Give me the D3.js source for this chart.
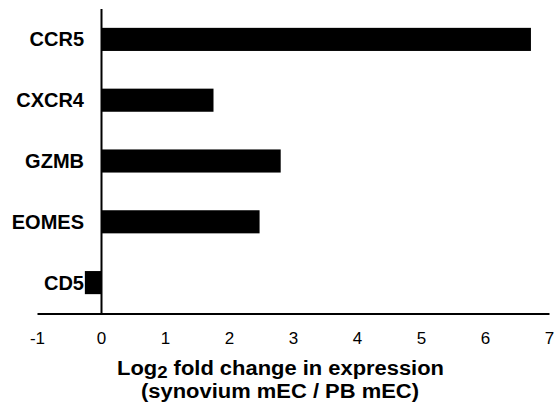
<!DOCTYPE html>
<html><head><meta charset="utf-8">
<script src="https://cdn.jsdelivr.net/npm/d3@7"></script>
<style>body{margin:0;background:#fff}svg{display:block}text{font-family:"Liberation Sans",Arial,sans-serif}</style>
</head><body>
<svg id="c" width="556" height="408"></svg>
<script>
const categories = ["CCR5","CXCR4","GZMB","EOMES","CD5"];
const values = [6.71, 1.75, 2.8, 2.47, -0.26];
const xTicks = [-1,0,1,2,3,4,5,6,7];

const svg = d3.select("#c");
const x = d3.scaleLinear().domain([-1,7]).range([37.5,549.5]);
const y = d3.scaleBand().domain(categories).range([9,313]).paddingInner(0.62).paddingOuter(0.31);

// bars
svg.selectAll("rect.bar").data(categories).join("rect")
  .attr("x",(d,i)=>x(Math.min(0,values[i])))
  .attr("width",(d,i)=>Math.abs(x(values[i])-x(0)))
  .attr("y",d=>y(d)).attr("height",y.bandwidth()).attr("fill","#000");

// x axis line
svg.append("line").attr("x1",x(-1)).attr("x2",x(7)).attr("y1",314).attr("y2",314).attr("stroke","#000").attr("stroke-width",2);
// y axis line at zero
svg.append("line").attr("x1",x(0)).attr("x2",x(0)).attr("y1",9).attr("y2",314).attr("stroke","#000").attr("stroke-width",2);

// tick labels
svg.selectAll("text.tick").data(xTicks).join("text")
  .attr("x",d=>x(d)).attr("y",344).attr("text-anchor","middle")
  .attr("font-size",17).text(d=>d);

// category labels
svg.selectAll("text.cat").data(categories).join("text")
  .attr("x",84).attr("y",d=>y(d)+y.bandwidth()/2+7).attr("text-anchor","end")
  .attr("font-size",20).attr("font-weight","bold").text(d=>d);

// axis title
const t1 = svg.append("text").attr("x",117).attr("y",375)
  .attr("font-size",20).attr("font-weight","bold")
  .attr("textLength",327).attr("lengthAdjust","spacingAndGlyphs");
t1.append("tspan").text("Log");
t1.append("tspan").attr("font-size",17).attr("dy",3).text("2");
t1.append("tspan").attr("dy",-3).text(" fold change in expression");
svg.append("text").attr("x",141).attr("y",398)
  .attr("font-size",20).attr("font-weight","bold")
  .attr("textLength",278).attr("lengthAdjust","spacingAndGlyphs")
  .text("(synovium mEC / PB mEC)");
</script>
</body></html>
